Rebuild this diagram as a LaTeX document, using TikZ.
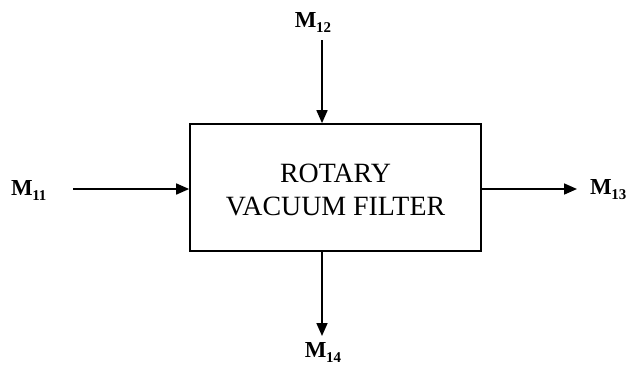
\documentclass[tikz,border=0pt]{standalone}
\usepackage{fontspec}
\setmainfont{Liberation Serif}
\usetikzlibrary{arrows.meta}
\tikzset{
  flow/.style={line width=1.7bp,-{Triangle[length=13bp,width=11bp]}},
  mlabel/.style={inner sep=0pt,font=\fontsize{23}{23}\selectfont\bfseries},
  unitbox/.style={draw,line width=1.7bp,inner sep=0pt}
}
\newcommand{\msub}[1]{M\kern-0.5bp\raisebox{-5bp}{\fontsize{15}{15}\selectfont #1}}
\begin{document}
\begin{tikzpicture}[x=1bp,y=-1bp]
\useasboundingbox (0,0) rectangle (634,367);
% box
\node[unitbox,minimum width=291bp,minimum height=127bp] (box) at (335.5,187.5) {};
\node[inner sep=0pt,align=center,font=\fontsize{28}{33}\selectfont] (txt) at (335.5,190) {ROTARY\\VACUUM FILTER};
% labels
\node[mlabel,anchor=west] (m11) at (11,190) {\msub{11}};
\node[mlabel] (m12) at (313,22) {\msub{12}};
\node[mlabel,anchor=west] (m13) at (590,190) {\msub{13}};
\node[mlabel] (m14) at (323,352) {\msub{14}};
% connector ends
\coordinate (a11) at (73,189);
\coordinate (a12) at (322,40);
\coordinate (a13) at (577,189);
\coordinate (a14) at (322,336);
\draw[flow] (a11) -- (a11 -| box.west);
\draw[flow] (a12) -- (a12 |- box.north);
\draw[flow] (a13 -| box.east) -- (a13);
\draw[flow] (a14 |- box.south) -- (a14);
\end{tikzpicture}
\end{document}
